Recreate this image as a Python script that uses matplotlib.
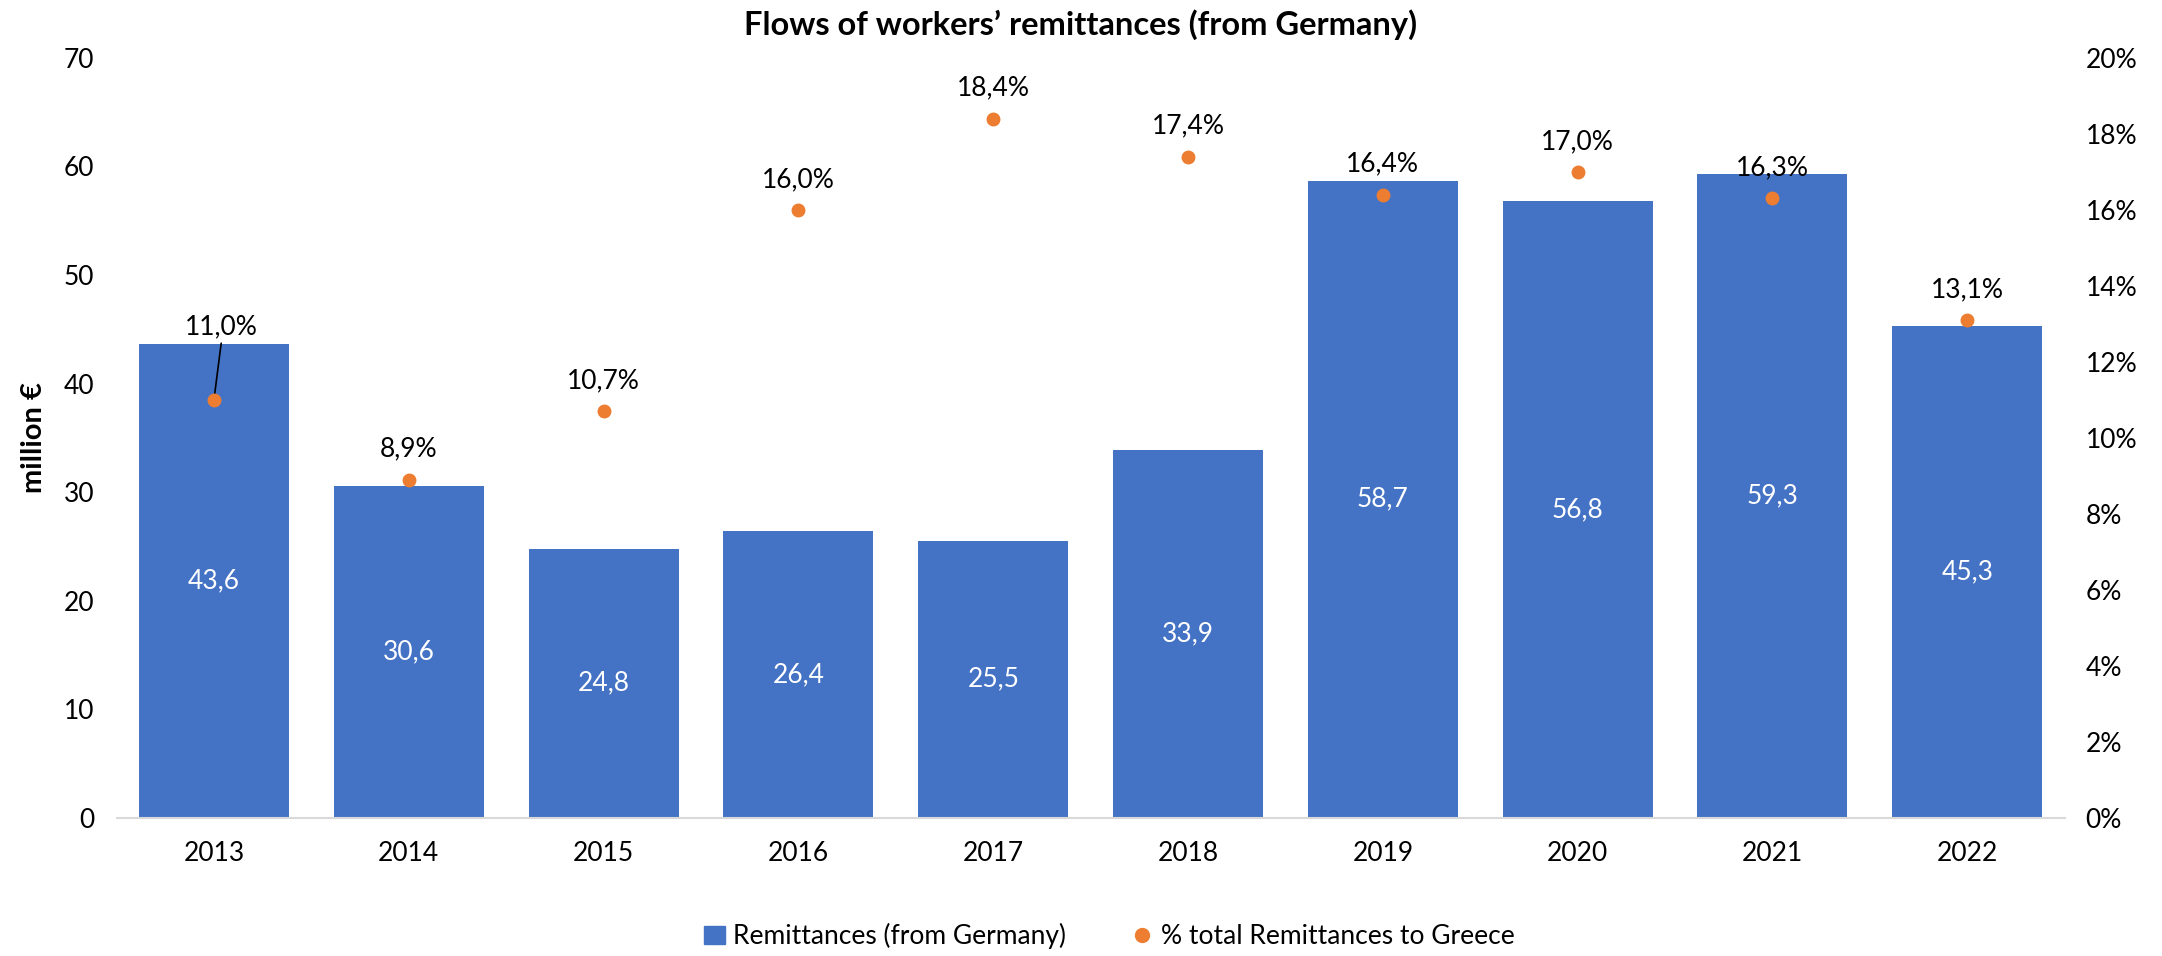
import matplotlib
matplotlib.use("Agg")
import matplotlib.pyplot as plt
from matplotlib.lines import Line2D
from matplotlib.patches import Patch

years = ["2013", "2014", "2015", "2016", "2017", "2018", "2019", "2020", "2021", "2022"]
remittances = [43.6, 30.6, 24.8, 26.4, 25.5, 33.9, 58.7, 56.8, 59.3, 45.3]
share_pct = [11.0, 8.9, 10.7, 16.0, 18.4, 17.4, 16.4, 17.0, 16.3, 13.1]
left_ticks = [0, 10, 20, 30, 40, 50, 60, 70]
right_ticks = [0, 2, 4, 6, 8, 10, 12, 14, 16, 18, 20]

BLUE = "#4472C4"
ORANGE = "#ED7D31"
FONT = ["Lato", "DejaVu Sans"]
plt.rcParams["font.family"] = FONT
FS = 19

fig = plt.figure(figsize=(21.62, 9.56), dpi=100)
ax = fig.add_axes([0.0539, 0.1447, 0.9011, 0.7947])
ax2 = ax.twinx()

x = list(range(len(years)))
ax.bar(x, remittances, width=0.77, color=BLUE, zorder=2)
ax.set_xlim(-0.5, len(years) - 0.5)
ax.set_ylim(0, 70)
ax.set_yticks(left_ticks)
ax.set_yticklabels([str(t) for t in left_ticks])
ax.set_xticks(x)
ax.set_xticklabels(years)
ax.tick_params(axis="both", length=0, labelsize=FS, colors="#000000")
ax.tick_params(axis="x", pad=17)
ax.tick_params(axis="y", pad=16)
for s in ["top", "left", "right"]:
    ax.spines[s].set_visible(False)
ax.spines["bottom"].set_color("#D9D9D9")
ax.spines["bottom"].set_linewidth(1.5)
ax.set_ylabel("million €", fontsize=21, fontweight="bold", labelpad=12)

for xi, v in zip(x, remittances):
    ax.text(xi, v / 2, f"{v:.1f}".replace(".", ","), ha="center", va="center",
            color="white", fontsize=FS, zorder=3)

ax2.set_ylim(0, 20)
ax2.set_yticks(right_ticks)
ax2.set_yticklabels([f"{t}%" for t in right_ticks])
ax2.tick_params(axis="y", length=0, labelsize=FS, pad=15)
for s in ["top", "left", "right", "bottom"]:
    ax2.spines[s].set_visible(False)
ax2.plot(x, share_pct, linestyle="none", marker="o", markersize=9,
         color=ORANGE, zorder=4)

for xi, p in zip(x, share_pct):
    lbl = f"{p:.1f}%".replace(".", ",")
    if xi == 0:
        ax2.annotate(lbl, xy=(xi, p), xytext=(xi + 0.04, p + 1.6), ha="center", va="bottom",
                     fontsize=FS,
                     arrowprops=dict(arrowstyle="-", color="black", lw=1.2,
                                     shrinkA=1, shrinkB=0, relpos=(0.5, 0.0)))
    else:
        ax2.annotate(lbl, xy=(xi, p), xytext=(0, 13), textcoords="offset points",
                     ha="center", va="bottom", fontsize=FS)

fig.text(0.5, 0.974, "Flows of workers’ remittances (from Germany)", fontsize=23.5,
         fontweight="bold", ha="center", va="center")

handles = [Patch(facecolor=BLUE, edgecolor=BLUE),
           Line2D([0], [0], marker="o", color="none", markerfacecolor=ORANGE,
                  markeredgecolor=ORANGE, markersize=10)]
fig.legend(handles, ["Remittances (from Germany)", "% total Remittances to Greece"],
           loc="lower center", bbox_to_anchor=(0.513, -0.018), ncol=2, frameon=False,
           fontsize=FS, handlelength=0.8, handletextpad=0.3, columnspacing=2.5)

fig.savefig("out.png", dpi=100)
